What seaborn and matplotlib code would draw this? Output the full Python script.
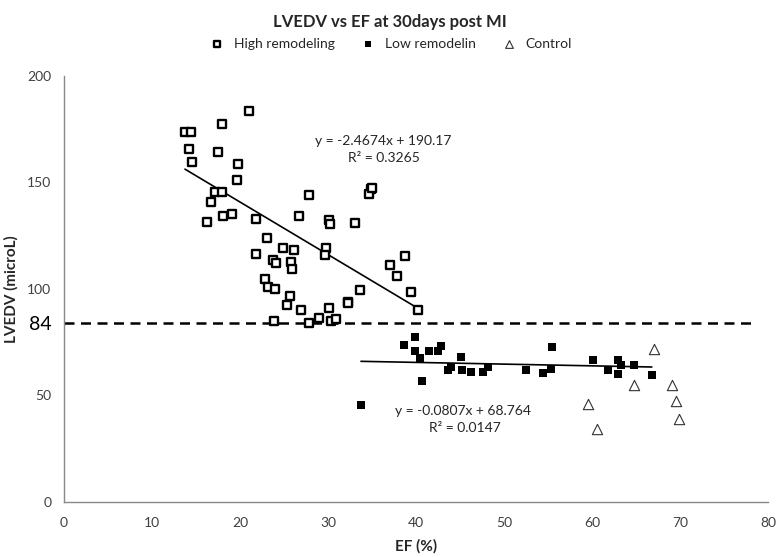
import numpy as np
import pandas as pd
import seaborn as sns
import matplotlib.pyplot as plt

# values
high_ef = [21.0, 13.75, 14.4, 17.95, 14.2, 17.5, 14.6, 19.8, 19.7, 17.2, 18.0, 16.7,
           18.1, 19.05, 16.2, 21.85, 26.7, 27.8, 23.1, 30.1, 30.2, 21.85, 24.9, 26.1,
           29.8, 29.65, 23.8, 24.05, 25.75, 25.95, 22.9, 23.2, 24.0, 25.7, 25.3, 26.9,
           30.1, 23.9, 27.9, 29.0, 30.4, 30.9, 34.9, 34.7, 35.0, 33.1, 37.0, 38.8,
           37.9, 33.6, 39.4, 40.2, 32.3, 32.3]
high_lvedv = [183.6, 173.8, 173.8, 177.2, 165.5, 164.4, 159.6, 158.8, 151.1, 145.7, 145.3, 140.8,
              134.1, 135.4, 131.4, 132.7, 134.1, 144.3, 124.1, 132.5, 130.3, 116.5, 119.1, 118.2,
              119.1, 116.1, 113.8, 112.1, 112.7, 109.6, 104.6, 101.0, 99.9, 96.5, 92.6, 90.1,
              91.0, 84.9, 84.2, 86.2, 84.8, 85.9, 146.7, 144.8, 147.6, 130.9, 111.2, 115.4,
              106.1, 99.6, 98.5, 90.2, 94.0, 93.2]

low_ef = [38.6, 39.85, 39.9, 40.5, 40.7, 41.5, 42.5, 42.8, 45.15, 43.6, 44.0, 45.2,
          46.25, 47.6, 48.2, 52.5, 33.75, 55.45, 54.4, 55.4, 60.1, 61.8, 62.9, 63.3,
          63.0, 64.8, 66.8]
low_lvedv = [73.8, 77.4, 70.8, 67.7, 56.8, 71.1, 70.8, 73.2, 68.3, 61.8, 63.6, 61.8,
             61.1, 61.0, 63.2, 61.8, 45.5, 72.7, 60.5, 62.4, 66.6, 62.1, 66.6, 64.4,
             60.2, 64.1, 59.4]

ctrl_ef = [67.0, 64.8, 69.1, 69.6, 69.9, 59.5, 60.6]
ctrl_lvedv = [71.9, 54.7, 54.9, 47.4, 38.8, 45.8, 34.4]

# trendline equations printed on the chart
high_fit = [-2.4674, 190.17]
low_fit = [-0.0807, 68.764]
threshold = 84

x_ticks = [0, 10, 20, 30, 40, 50, 60, 70, 80]
y_ticks = [0, 50, 84, 100, 150, 200]

sns.set_theme(style='white')
plt.rcParams['font.family'] = ['Lato', 'DejaVu Sans']

fig = plt.figure(figsize=(7.8, 5.57), dpi=100)
ax = fig.add_axes([0.082, 0.0987, 0.9026, 0.765])

high = pd.DataFrame({'EF': high_ef, 'LVEDV': high_lvedv})
low = pd.DataFrame({'EF': low_ef, 'LVEDV': low_lvedv})
ctrl = pd.DataFrame({'EF': ctrl_ef, 'LVEDV': ctrl_lvedv})

sns.scatterplot(data=high, x='EF', y='LVEDV', ax=ax, marker='s', s=32,
                facecolor='white', edgecolor='black', linewidth=1.7,
                label='High remodeling', zorder=3)
sns.scatterplot(data=low, x='EF', y='LVEDV', ax=ax, marker='s', s=28,
                color='black', linewidth=0, label='Low remodelin', zorder=3)
sns.scatterplot(data=ctrl, x='EF', y='LVEDV', ax=ax, marker='^', s=55,
                facecolor='white', edgecolor='#333333', linewidth=0.8,
                label='Control', zorder=3)

# trendlines over each group's range
for d, fit in [(high, high_fit), (low, low_fit)]:
    xs = np.array([d['EF'].min(), d['EF'].max()])
    ax.plot(xs, np.polyval(fit, xs), color='black', lw=1.2, zorder=2)

ax.hlines(threshold, 0, 78.6, colors='black', linestyles=(0, (4, 2.6)), lw=1.8, zorder=2)

ax.text(36.3, 169.5, 'y = -2.4674x + 190.17', ha='center', va='center', fontsize=10)
ax.text(36.4, 161.5, 'R² = 0.3265', ha='center', va='center', fontsize=10)
ax.text(45.3, 42.7, 'y = -0.0807x + 68.764', ha='center', va='center', fontsize=10)
ax.text(45.5, 34.7, 'R² = 0.0147', ha='center', va='center', fontsize=10)

ax.set_xlim(0, 80)
ax.set_ylim(0, 200)
ax.set_xticks(x_ticks)
ax.set_yticks(y_ticks)
ax.set_yticklabels([str(v) for v in y_ticks])
ax.tick_params(axis='both', which='major', direction='out', length=5, width=1,
               color='#898989', labelsize=10, labelcolor='#404040', pad=4)
ax.tick_params(axis='x', pad=6)
i84 = y_ticks.index(threshold)
ax.yaxis.get_major_ticks()[i84].tick1line.set_visible(False)
lab = ax.get_yticklabels()[i84]
lab.set_fontsize(14)
lab.set_color('black')

for side in ['top', 'right']:
    ax.spines[side].set_visible(False)
for side in ['left', 'bottom']:
    ax.spines[side].set_color('#898989')
    ax.spines[side].set_linewidth(1)

ax.set_xlabel('EF (%)', fontsize=11, fontweight='bold', labelpad=7)
ax.set_ylabel('LVEDV (microL)', fontsize=11, fontweight='bold', labelpad=6)

ax.legend_.remove()
h, l = ax.get_legend_handles_labels()
fig.legend(h, l, loc='center', bbox_to_anchor=(0.497, 0.921), ncol=3,
           frameon=False, fontsize=10, handletextpad=0.2, columnspacing=1.4,
           markerscale=0.75)
fig.suptitle('LVEDV vs EF at 30days post MI', y=0.975, fontsize=12, fontweight='bold')

fig.savefig('out.png', dpi=100)
